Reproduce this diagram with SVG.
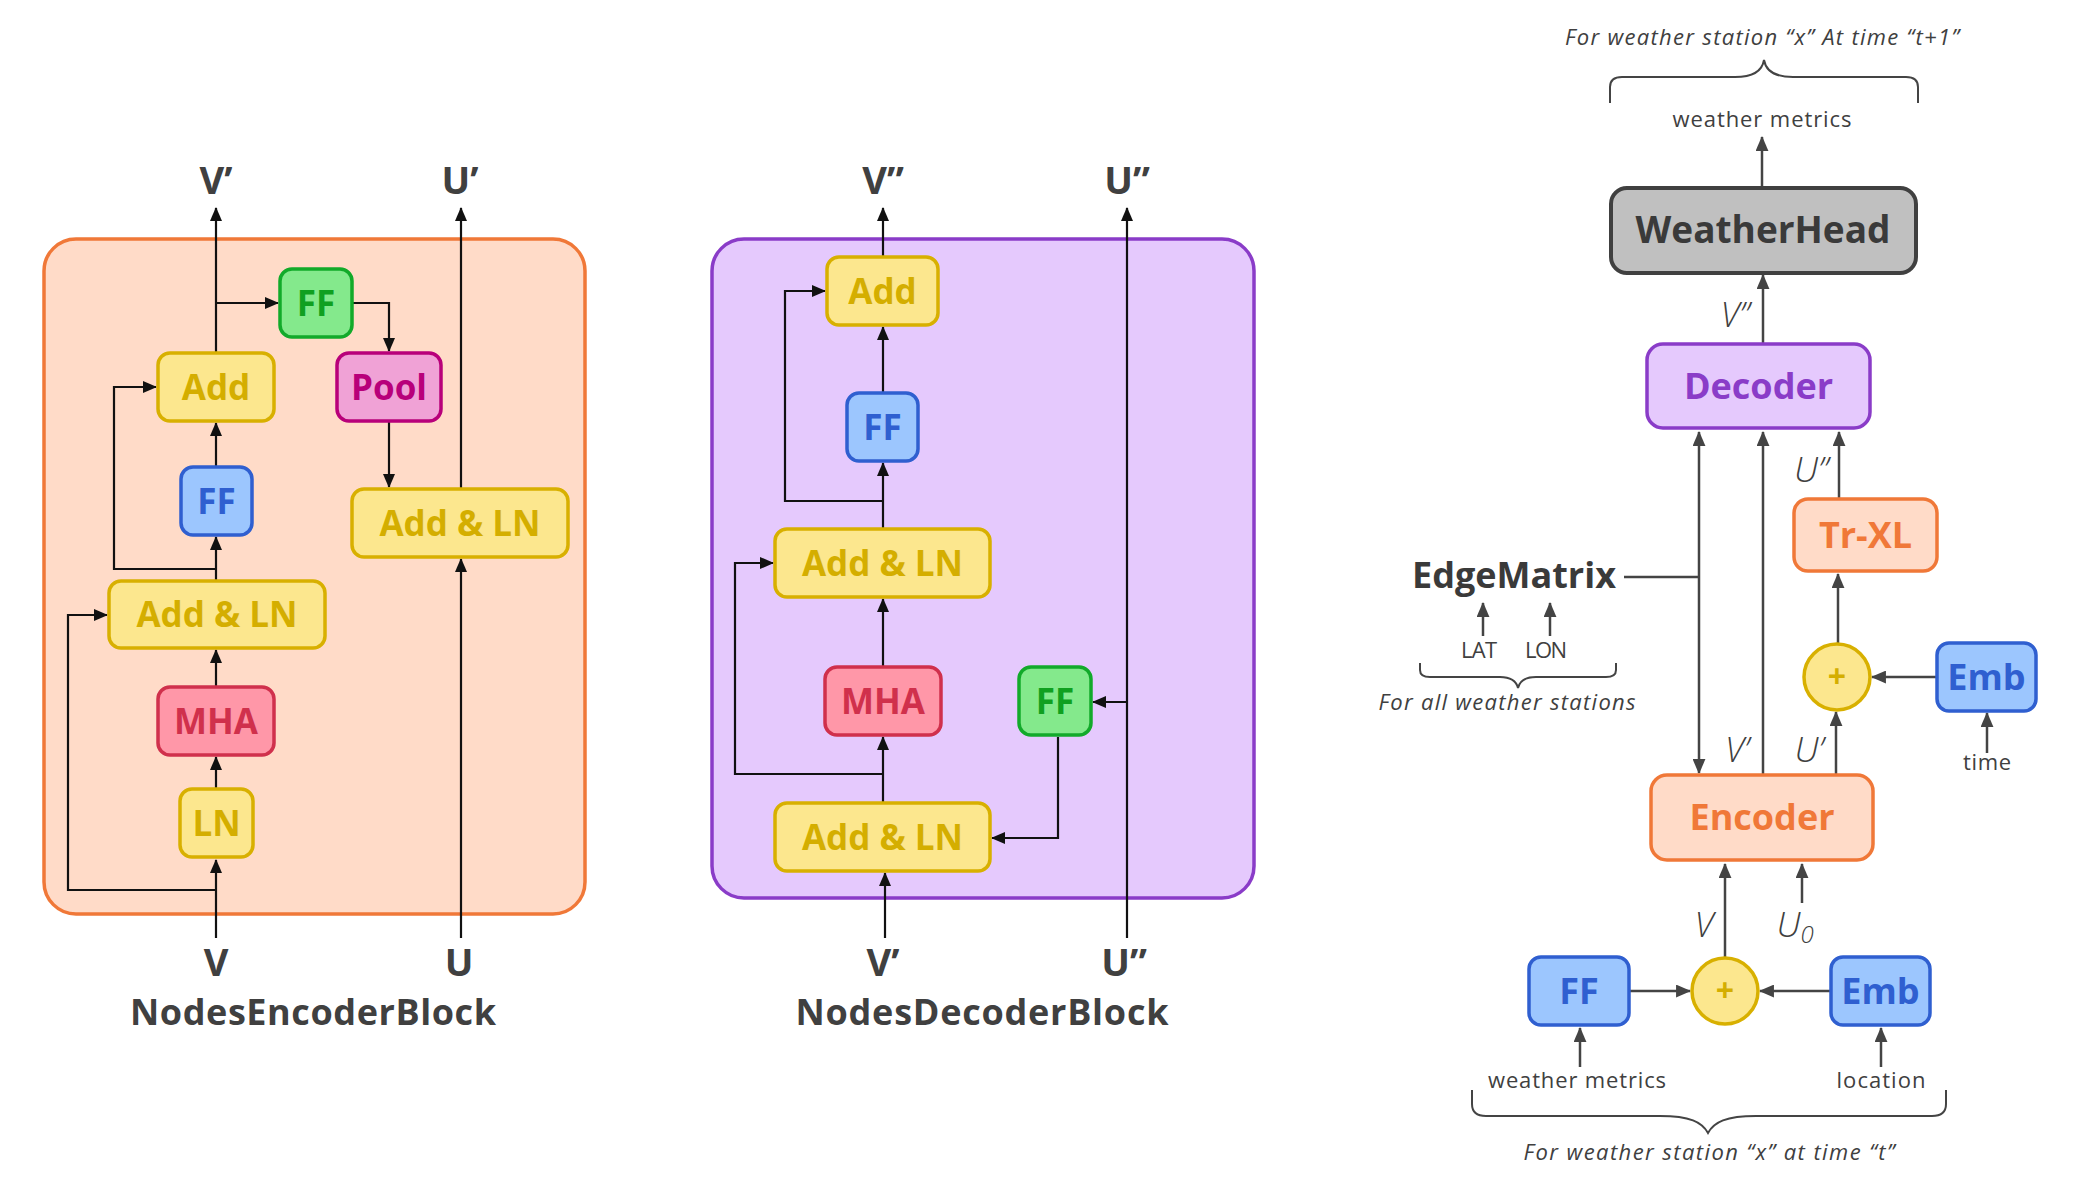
<svg xmlns="http://www.w3.org/2000/svg" width="2080" height="1192" viewBox="0 0 2080 1192">
<defs>
<marker id="ak" viewBox="0 0 14 12" refX="13" refY="6" markerWidth="14" markerHeight="12" markerUnits="userSpaceOnUse" orient="auto-start-reverse"><path d="M0,0 L14,6 L0,12 z" fill="#111"/></marker>
<marker id="ag" viewBox="0 0 14 12" refX="13" refY="6" markerWidth="15" markerHeight="13" markerUnits="userSpaceOnUse" orient="auto-start-reverse"><path d="M0,0 L14,6 L0,12 z" fill="#444"/></marker>
<style>
text{font-family:"Open Sans","Liberation Sans",sans-serif;}
.n{font-weight:700;text-anchor:middle;}
.s33{font-size:35px;}
.s36{font-size:36px;}
.yel rect,.yel ellipse{fill:#FCE78E;stroke:#D8B000;stroke-width:3.5;}
.yel text{fill:#D4AE00;}
.blu rect{fill:#9CC6FE;stroke:#2F5FD0;stroke-width:3.5;}
.blu text{fill:#2F5FD0;}
.grn rect{fill:#84E98C;stroke:#12AA2A;stroke-width:3.5;}
.grn text{fill:#10A020;}
.red rect{fill:#FF97A8;stroke:#D0304C;stroke-width:3.5;}
.red text{fill:#D0304C;}
.pnk rect{fill:#F0A2D6;stroke:#B8007A;stroke-width:3.5;}
.pnk text{fill:#B8007A;}
.org rect{fill:#FFDBC8;stroke:#F07838;stroke-width:3.5;}
.org text{fill:#F07838;}
.pur rect{fill:#E5C9FD;stroke:#8A3CC8;stroke-width:3.5;}
.pur text{fill:#8A3CC8;}
.gry rect{fill:#C0C0C0;stroke:#404040;stroke-width:4;}
.gry text{fill:#3A3A3A;}
.lbl{font-weight:700;font-size:38px;fill:#404040;text-anchor:middle;}
.ttl{font-weight:700;font-size:36px;fill:#404040;text-anchor:middle;}
.it{font-style:italic;font-weight:300;font-size:35px;fill:#404040;text-anchor:middle;}
.cap{font-style:italic;font-size:22px;fill:#404040;text-anchor:middle;}
.sm{font-size:22px;fill:#404040;text-anchor:middle;}
.ck path{fill:none;stroke:#111;stroke-width:2.2;marker-end:url(#ak);}
.cg path{fill:none;stroke:#444;stroke-width:2.5;marker-end:url(#ag);}
.br{fill:none;stroke:#444;stroke-width:2;}
</style>
</defs>

<g id="nodes-encoder-block">
<rect x="44" y="239" width="541" height="675" rx="32" fill="#FFDBC8" stroke="#F07838" stroke-width="3.5"/>
</g>
<g id="nodes-decoder-block">
<rect x="712" y="239" width="542" height="659" rx="32" fill="#E5C9FD" stroke="#8A3CC8" stroke-width="3.5"/>
</g>

<g id="connectors">
<g class="ck">
<path d="M216,938 V860"/>
<path d="M216,890 H68 V615 H107"/>
<path d="M216,789 V757"/>
<path d="M216,687 V650"/>
<path d="M216,581 V537"/>
<path d="M216,569 H114 V387 H156"/>
<path d="M216,467 V423"/>
<path d="M216,353 V208"/>
<path d="M216,303 H278"/>
<path d="M352,303 H389 V351"/>
<path d="M389,421 V487"/>
<path d="M461,938 V559"/>
<path d="M461,489 V208"/>

<path d="M885,938 V873"/>
<path d="M883,803 V737"/>
<path d="M883,774 H735 V563 H773"/>
<path d="M883,667 V599"/>
<path d="M883,529 V463"/>
<path d="M883,501 H785 V291 H825"/>
<path d="M883,393 V327"/>
<path d="M883,257 V208"/>
<path d="M1127,938 V208"/>
<path d="M1127,702 H1093"/>
<path d="M1058,737 V838 H992"/>
</g>
<g class="cg">
<path d="M1762,187 V137"/>
<path d="M1763,343 V275"/>
<path d="M1699,432 V773" style="marker-start:url(#ag)"/>
<path d="M1624,577 H1699" style="marker-end:none"/>
<path d="M1763,775 V432"/>
<path d="M1839,499 V432"/>
<path d="M1838,644 V574"/>
<path d="M1937,677 H1872"/>
<path d="M1987,753 V713"/>
<path d="M1836,775 V712"/>
<path d="M1483,636 V603"/>
<path d="M1550,636 V603"/>
<path d="M1725,958 V864"/>
<path d="M1802,903 V864"/>
<path d="M1629,991 H1690"/>
<path d="M1831,991 H1760"/>
<path d="M1580,1067 V1028"/>
<path d="M1881,1067 V1028"/>
</g>
</g>

<g id="enc-ff2" class="grn"><rect x="280" y="269" width="72" height="68" rx="12"/><text class="n s33" x="316" y="315.5">FF</text></g>
<g id="enc-add" class="yel"><rect x="158" y="353" width="116" height="68" rx="12"/><text class="n s33" x="216" y="399.5">Add</text></g>
<g id="enc-pool" class="pnk"><rect x="337" y="353" width="104" height="68" rx="12"/><text class="n s33" x="389" y="399.5">Pool</text></g>
<g id="enc-ff" class="blu"><rect x="181" y="467" width="71" height="68" rx="12"/><text class="n s33" x="216.5" y="513.5">FF</text></g>
<g id="enc-addln2" class="yel"><rect x="352" y="489" width="216" height="68" rx="12"/><text class="n s33" x="460" y="535.5">Add &amp; LN</text></g>
<g id="enc-addln1" class="yel"><rect x="109" y="581" width="216" height="67" rx="12"/><text class="n s33" x="217" y="627">Add &amp; LN</text></g>
<g id="enc-mha" class="red"><rect x="158" y="687" width="116" height="68" rx="12"/><text class="n s33" x="216" y="733.5">MHA</text></g>
<g id="enc-ln" class="yel"><rect x="180" y="789" width="73" height="68" rx="12"/><text class="n s33" x="216.5" y="835.5">LN</text></g>

<g id="enc-labels">
<text class="lbl" x="216" y="194">V’</text>
<text class="lbl" x="460" y="194">U’</text>
<text class="lbl" x="216" y="976">V</text>
<text class="lbl" x="459" y="976">U</text>
<text class="ttl" x="313" y="1025" textLength="366">NodesEncoderBlock</text>
</g>

<g id="dec-add" class="yel"><rect x="827" y="257" width="111" height="68" rx="12"/><text class="n s33" x="882.5" y="303.5">Add</text></g>
<g id="dec-ff" class="blu"><rect x="847" y="393" width="71" height="68" rx="12"/><text class="n s33" x="882.5" y="439.5">FF</text></g>
<g id="dec-addln2" class="yel"><rect x="775" y="529" width="215" height="68" rx="12"/><text class="n s33" x="882.5" y="575.5">Add &amp; LN</text></g>
<g id="dec-mha" class="red"><rect x="825" y="667" width="116" height="68" rx="12"/><text class="n s33" x="883" y="713.5">MHA</text></g>
<g id="dec-ff2" class="grn"><rect x="1019" y="667" width="72" height="68" rx="12"/><text class="n s33" x="1055" y="713.5">FF</text></g>
<g id="dec-addln1" class="yel"><rect x="775" y="803" width="215" height="68" rx="12"/><text class="n s33" x="882.5" y="849.5">Add &amp; LN</text></g>

<g id="dec-labels">
<text class="lbl" x="883" y="194">V”</text>
<text class="lbl" x="1127" y="194">U”</text>
<text class="lbl" x="883" y="976">V’</text>
<text class="lbl" x="1124" y="976">U”</text>
<text class="ttl" x="982" y="1025" textLength="373">NodesDecoderBlock</text>
</g>

<g id="weatherhead" class="gry"><rect x="1611" y="188" width="305" height="85" rx="16"/><text class="n" x="1763" y="243" style="font-size:37px" textLength="255">WeatherHead</text></g>
<g id="decoder" class="pur"><rect x="1647" y="344" width="223" height="84" rx="16"/><text class="n s36" x="1758.5" y="399">Decoder</text></g>
<g id="trxl" class="org"><rect x="1794" y="499" width="143" height="72" rx="14"/><text class="n s36" x="1865.5" y="548">Tr-XL</text></g>
<g id="plus-top" class="yel"><ellipse cx="1837" cy="677" rx="33" ry="33"/><text class="n" x="1837" y="688" style="font-size:32px">+</text></g>
<g id="emb-time" class="blu"><rect x="1937" y="643" width="99" height="68" rx="12"/><text class="n s36" x="1986.5" y="690">Emb</text></g>
<g id="encoder" class="org"><rect x="1651" y="775" width="222" height="85" rx="16"/><text class="n s36" x="1762" y="830">Encoder</text></g>
<g id="ff-bottom" class="blu"><rect x="1529" y="957" width="100" height="68" rx="12"/><text class="n s36" x="1579" y="1004">FF</text></g>
<g id="plus-bottom" class="yel"><ellipse cx="1725" cy="991" rx="33" ry="33"/><text class="n" x="1725" y="1002" style="font-size:32px">+</text></g>
<g id="emb-location" class="blu"><rect x="1831" y="957" width="99" height="68" rx="12"/><text class="n s36" x="1880.5" y="1004">Emb</text></g>
<g id="edgematrix"><text class="n s36" x="1514" y="588" fill="#3A3A3A">EdgeMatrix</text></g>

<g id="right-labels">
<text class="cap" x="1762" y="45" textLength="394">For weather station “x” At time “t+1”</text>
<path class="br" d="M1610,103 V87 Q1610,77 1622,77 H1735 C1752,77 1762,72 1764,60 C1766,72 1776,77 1793,77 H1906 Q1918,77 1918,87 V103"/>
<text class="sm" x="1762" y="127" textLength="179">weather metrics</text>
<text class="it" x="1735" y="327">V”</text>
<text class="it" x="1811" y="482">U”</text>
<text class="it" x="1737" y="762">V’</text>
<text class="it" x="1809" y="762">U’</text>
<text class="sm" x="1987" y="770" textLength="48">time</text>
<text class="sm" x="1479" y="658" textLength="36">LAT</text>
<text class="sm" x="1546" y="658" textLength="42">LON</text>
<path class="br" d="M1420,663 V670 Q1420,677 1430,677 H1500 C1510,677 1516,680 1518,688 C1520,680 1526,677 1536,677 H1606 Q1616,677 1616,670 V663"/>
<text class="cap" x="1507" y="710" textLength="257">For all weather stations</text>
<text class="it" x="1704" y="937">V</text>
<text class="it" x="1795" y="937">U<tspan style="font-size:24px" dy="6">0</tspan></text>
<text class="sm" x="1577" y="1088" textLength="178">weather metrics</text>
<text class="sm" x="1881" y="1088" textLength="89">location</text>
<path class="br" d="M1472,1090 V1104 Q1472,1116 1486,1116 H1660 C1690,1116 1702,1122 1708,1133 C1714,1122 1726,1116 1756,1116 H1932 Q1946,1116 1946,1104 V1090"/>
<text class="cap" x="1709" y="1160" textLength="371">For weather station “x” at time “t”</text>
</g>
</svg>
